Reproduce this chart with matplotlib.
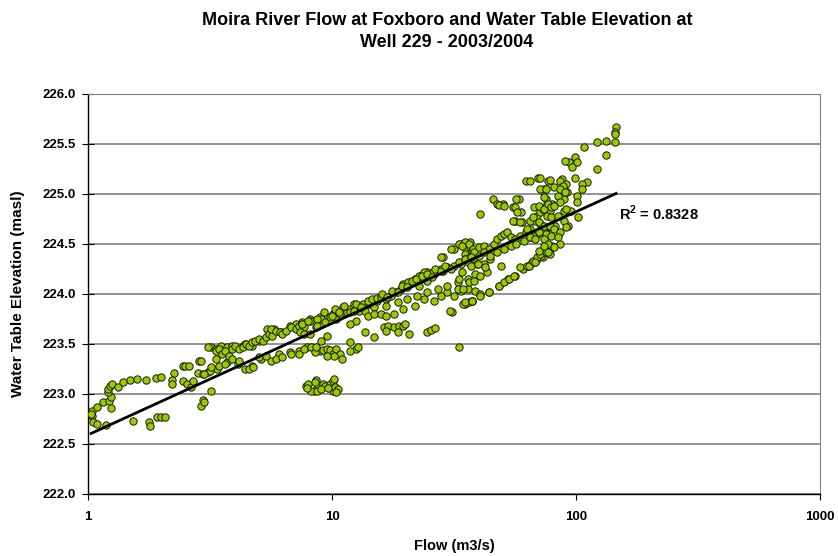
import numpy as np
import matplotlib
matplotlib.use("Agg")
import matplotlib.pyplot as plt

plt.rcParams['font.family'] = ['Liberation Sans', 'DejaVu Sans']
plt.rcParams['mathtext.fontset'] = 'custom'
plt.rcParams['mathtext.bf'] = 'Liberation Sans:bold'
plt.rcParams['mathtext.rm'] = 'Liberation Sans:bold'

# low flows (< 4.5 m3/s)
flow_low = [1.035, 1.035, 1.03, 1.05, 1.09, 1.18, 1.09, 1.15, 1.22, 1.24, 1.24, 1.21, 1.21, 1.23, 1.25, 1.33,
            1.39, 1.48, 1.59, 1.73, 1.90, 2.0, 2.2, 2.26, 2.2, 2.45, 2.5, 2.6, 2.45, 2.55, 2.65, 2.7, 2.82,
            2.85, 2.95, 3.1, 3.15, 3.39, 3.2, 2.95, 2.9, 3.0, 1.53, 1.78, 1.8, 1.92, 2.0, 2.06]
elev_low = [222.83, 222.78, 222.80, 222.72, 222.70, 222.69, 222.87, 222.92, 222.93, 222.97, 222.86, 223.02,
            223.05, 223.08, 223.10, 223.07, 223.12, 223.14, 223.15, 223.14, 223.16, 223.17, 223.14, 223.21,
            223.10, 223.28, 223.28, 223.28, 223.13, 223.10, 223.07, 223.13, 223.21, 223.33, 223.20, 223.22,
            223.23, 223.25, 223.03, 222.94, 222.88, 222.92, 222.73, 222.72, 222.68, 222.77, 222.77, 222.77]

# 3 - 13 m3/s band
flow_a = [3.2, 3.35, 3.5, 3.7, 3.9, 4.3, 4.4, 4.7, 5.0, 5.4, 5.6, 5.8, 6.2, 6.7, 7.1, 7.5, 8.1, 8.9, 9.4, 10.1,
          3.35, 3.7, 4.1, 4.4, 4.7, 5.1, 5.6, 6.04, 6.7, 7.3, 7.9, 8.9, 9.8, 10.3]
elev_a = [223.47, 223.45, 223.48, 223.47, 223.48, 223.48, 223.50, 223.48, 223.53, 223.65, 223.62, 223.65,
          223.62, 223.68, 223.70, 223.72, 223.75, 223.77, 223.78, 223.80,
          223.35, 223.32, 223.30, 223.25, 223.28, 223.35, 223.33, 223.40, 223.42, 223.43, 223.47, 223.43,
          223.42, 223.40]

flow_b = [2.9, 3.0, 3.2, 3.1, 3.34, 3.45, 3.55, 3.65, 3.8, 3.9, 4.0, 4.15, 4.3, 4.45, 4.56, 4.7, 4.85, 5.0,
          5.2, 5.34, 5.5, 5.7, 5.6, 5.9, 6.1, 6.24, 6.45, 6.8, 7.1, 7.29, 7.5, 7.7, 8.1, 8.6, 9.0, 9.4, 9.8,
          10.1, 10.4, 10.8, 11.1, 11.5, 11.8, 12.3, 12.5, 11.8,
          3.45, 3.65, 3.9, 4.15, 4.56, 4.75, 5.0, 5.34, 5.9, 6.24, 6.8, 7.29, 7.7, 8.2, 8.5,
          8.6, 9.2, 9.5, 9.8, 10.1, 10.4, 10.8, 11.0, 11.8, 12.6, 10.2, 9.5]
elev_b = [223.33, 223.20, 223.27, 223.47, 223.43, 223.45, 223.40, 223.43, 223.38, 223.45, 223.48, 223.45,
          223.47, 223.50, 223.48, 223.52, 223.53, 223.55, 223.53, 223.57, 223.60, 223.58, 223.65, 223.63,
          223.62, 223.60, 223.63, 223.67, 223.65, 223.68, 223.70, 223.67, 223.73, 223.67, 223.75, 223.72,
          223.77, 223.78, 223.75, 223.80, 223.87, 223.82, 223.85, 223.90, 223.73, 223.70,
          223.28, 223.30, 223.35, 223.33, 223.25, 223.27, 223.37, 223.38, 223.35, 223.37, 223.40, 223.40,
          223.45, 223.47, 223.42,
          223.47, 223.44, 223.45, 223.44, 223.40, 223.45, 223.40, 223.35, 223.52, 223.45, 223.38, 223.38]

# detached cluster near 223.1 m
flow_c = [7.8, 8.0, 8.4, 8.6, 8.8, 9.2, 9.4, 9.8, 10.1, 10.2, 10.1, 10.3, 10.6, 8.2, 8.7, 8.5, 9.0, 9.6,
          10.4, 7.9]
elev_c = [223.08, 223.10, 223.03, 223.14, 223.08, 223.10, 223.08, 223.10, 223.13, 223.15, 223.03, 223.07,
          223.05, 223.03, 223.03, 223.12, 223.05, 223.06, 223.02, 223.06]

# 7 - 45 m3/s
flow_d = [7.5, 7.4, 7.7, 8.0, 8.1, 8.7, 8.7, 9.0, 9.5, 9.3, 9.96, 10.3, 10.7, 11.2, 11.8, 12.5, 12.9, 13.4,
          13.6, 14.2, 14.8, 15.3,
          16.3, 17.0, 18.0, 18.8, 19.6, 20.0, 20.6, 18.6, 16.7, 14.8, 13.6, 12.8, 11.8, 24.5, 25.4, 26.5, 33.0]
elev_d = [223.70, 223.62, 223.60, 223.73, 223.60, 223.75, 223.68, 223.53, 223.58, 223.82, 223.78, 223.85,
          223.82, 223.88, 223.82, 223.90, 223.83, 223.90, 223.83, 223.90, 223.87, 223.93,
          223.67, 223.68, 223.67, 223.68, 223.68, 223.70, 223.60, 223.62, 223.63, 223.57, 223.62, 223.47,
          223.43, 223.62, 223.64, 223.66, 223.47]

flow_e = [12.3, 13.2, 14.0, 14.6, 15.3, 15.9, 16.6, 17.4, 18.3, 19.1, 20.0, 20.9, 22.0, 23.0, 24.6, 26.2,
          28.0, 29.7, 31.7, 33.8, 36.0, 38.2,
          19.6, 20.4, 21.8, 22.7, 23.8, 24.6, 26.0, 28.6, 31.7, 33.8, 35.4, 36.7, 35.0, 28.6,
          14.0, 14.8, 15.9, 16.7, 18.0, 19.6, 21.8, 23.8, 26.2, 28.0, 29.7, 31.7, 33.8, 36.0, 38.5, 31.0,
          35.0, 37.5,
          16.7, 18.6, 20.3, 22.4, 24.6, 27.2, 29.7, 32.7, 36.0, 38.5]
elev_e = [223.83, 223.87, 223.93, 223.95, 223.96, 223.97, 223.95, 223.98, 224.02, 224.05, 224.08, 224.12,
          224.15, 224.18, 224.22, 224.20, 224.25, 224.27, 224.28, 224.30, 224.32, 224.35,
          224.10, 224.12, 224.15, 224.18, 224.22, 224.13, 224.22, 224.23, 224.45, 224.50, 224.45, 224.52,
          224.40, 224.37,
          223.78, 223.80, 223.80, 223.78, 223.80, 223.85, 223.88, 223.95, 223.93, 223.98, 224.02, 223.98,
          224.03, 224.05, 224.03, 223.82, 223.90, 223.93,
          223.88, 223.92, 223.95, 223.98, 224.02, 224.05, 224.08, 224.12, 224.15, 224.20]

flow_f = [16.0, 16.8, 17.6, 18.6, 19.4, 20.3, 21.2, 22.0, 22.8, 23.4, 24.5, 25.6, 26.4, 28.0, 29.1, 30.6,
          33.0, 35.0, 36.7, 39.2, 42.0, 44.6,
          30.6, 33.0, 35.0, 36.7, 37.5, 28.0, 40.5, 30.5,
          34.5, 36.5, 37.4, 40.5, 44.0, 48.2, 52.5, 56.0, 60.8, 64.0, 68.0, 73.0, 78.0, 80.0,
          45.8, 47.5, 50.0, 55.0, 58.5, 59.4, 56.0, 60.0]
elev_f = [224.00, 223.97, 224.03, 224.02, 224.08, 224.07, 224.13, 224.15, 224.08, 224.18, 224.20, 224.17,
          224.25, 224.23, 224.28, 224.25, 224.32, 224.35, 224.37, 224.30, 224.30, 224.35,
          224.45, 224.50, 224.52, 224.47, 224.43, 224.37, 224.80, 223.83,
          223.90, 223.92, 223.93, 224.00, 224.02, 224.08, 224.15, 224.18, 224.25, 224.28, 224.32, 224.37,
          224.40, 224.47,
          224.95, 224.90, 224.90, 224.87, 224.95, 224.82, 224.73, 224.72]

# 32 - 85 m3/s
flow_g = [62.5, 70.0, 77.0, 73.0, 48.5, 50.6, 57.0, 56.5, 55.0, 57.5, 59.0,
          34.0, 36.4, 37.7, 38.2, 40.0, 42.0, 44.0, 46.0, 47.5, 49.5, 50.8, 52.2, 54.0, 56.5, 59.0, 62.5,
          65.0, 67.0, 69.0, 71.3, 73.0, 75.0, 78.0, 80.0, 71.3, 75.0,
          35.0, 37.0, 40.0, 42.0, 44.6, 47.5, 50.8, 54.0, 57.0, 61.0, 65.0, 69.0, 73.0, 78.0, 82.0,
          35.0, 37.5, 40.5, 44.0, 48.5, 50.8, 53.0, 55.5, 59.0, 63.0, 66.0, 69.0, 72.0, 74.0, 77.0, 80.0,
          32.7, 34.5, 36.4, 38.2, 40.5, 43.0, 34.0, 37.0, 33.2, 39.5, 49.5, 42.5]
elev_g = [225.13, 225.16, 225.13, 225.03, 224.89, 224.88, 224.95, 224.87, 224.73, 224.82, 224.72,
          224.48, 224.50, 224.45, 224.42, 224.47, 224.48, 224.45, 224.50, 224.55, 224.58, 224.60, 224.62,
          224.57, 224.55, 224.58, 224.62, 224.65, 224.73, 224.78, 224.82, 224.85, 224.88, 224.83, 224.90,
          224.70, 224.65,
          224.35, 224.37, 224.38, 224.42, 224.38, 224.42, 224.45, 224.48, 224.50, 224.53, 224.57, 224.60,
          224.63, 224.67, 224.68,
          223.92, 223.93, 223.98, 224.02, 224.08, 224.12, 224.15, 224.18, 224.27, 224.28, 224.32, 224.35,
          224.38, 224.42, 224.45, 224.48,
          224.05, 224.05, 224.12, 224.13, 224.18, 224.22, 224.22, 224.28, 224.15, 224.30, 224.28, 224.27]

# high flows (> 60 m3/s)
flow_h = [146, 145, 144, 133, 122, 145, 133, 122, 108, 99, 94, 90, 101, 96, 99, 88, 86, 111, 106, 91,
          88.5, 81.5, 73.6, 71, 78.5, 106, 101, 100.5, 102, 93, 95, 92, 89, 84,
          63, 65, 66.5, 67.5, 70.5, 73.6, 75, 77, 79, 81.5, 86, 89, 91, 76, 79, 84, 89, 70.5, 74, 78,
          81.5, 86, 75, 70.5, 66.5, 79, 84, 65, 68, 73.6, 77, 86, 91, 65, 71, 73.6, 86, 90, 75.5,
          64, 66.5, 69.5, 71.5, 75, 77, 81.5, 70.5, 74, 68]
elev_h = [225.67, 225.62, 225.60, 225.53, 225.52, 225.52, 225.39, 225.25, 225.47, 225.37, 225.32, 225.33,
          225.32, 225.27, 225.16, 225.15, 225.13, 225.12, 225.10, 225.10, 225.08, 225.07, 225.05, 225.16,
          225.14, 225.05, 224.98, 224.92, 224.77, 224.68, 224.83, 225.02, 224.95, 224.98,
          224.65, 224.73, 224.77, 224.87, 224.88, 224.85, 224.95, 224.90, 224.87, 224.88, 224.92, 224.83,
          224.85, 224.78, 224.77, 224.78, 224.73, 224.72, 224.68, 224.68, 224.65, 224.62, 224.60, 224.62,
          224.58, 224.58, 224.57, 224.57, 224.55, 224.55, 224.50, 224.50, 224.67, 225.13, 225.05, 224.97,
          225.05, 225.02, 225.05,
          224.28, 224.33, 224.37, 224.40, 224.42, 224.42, 224.47, 224.43, 224.48, 224.32]

r2_label = "R$^{2}$ = 0.8328"

flow = np.array(flow_low + flow_a + flow_b + flow_c + flow_d + flow_e + flow_f + flow_g + flow_h, dtype=float)
elev = np.array(elev_low + elev_a + elev_b + elev_c + elev_d + elev_e + elev_f + elev_g + elev_h)

fig = plt.figure(figsize=(8.38, 5.56), dpi=100)
ax = fig.add_axes([88 / 838, 1 - 494 / 556, 732 / 838, 400 / 556])

ax.scatter(flow, elev, s=28, c='#99CC00', edgecolors='#1a1a00', linewidths=0.7, zorder=3)

# log trend line fitted to the points
a, b = np.polyfit(np.log(flow), elev, 1)
xt = np.array([flow.min(), flow.max()])
ax.plot(xt, a * np.log(xt) + b, color='black', lw=2, zorder=4)

ax.text(150, 224.81, r2_label, fontsize=10.5, fontweight='bold', va='center', ha='left')

ax.set_xscale('log')
ax.set_xlim(1, 1000)
ax.set_ylim(222.0, 226.0)
ax.set_xticks([1, 10, 100, 1000])
ax.set_xticklabels(['1', '10', '100', '1000'])
ax.xaxis.set_minor_locator(matplotlib.ticker.NullLocator())
ax.set_yticks(np.arange(222.0, 226.01, 0.5))
ax.yaxis.set_major_formatter(matplotlib.ticker.FormatStrFormatter('%.1f'))
ax.grid(axis='y', color='#808080', lw=1.2, zorder=1)
ax.set_axisbelow(True)

for s in ['top', 'right']:
    ax.spines[s].set_color('#808080')
for s in ['left', 'bottom']:
    ax.spines[s].set_color('black')
    ax.spines[s].set_linewidth(1.0)

ax.tick_params(axis='y', direction='inout', length=8, pad=5, labelsize=9.5)
ax.tick_params(axis='x', direction='out', length=4, pad=8, labelsize=9.5)
for lbl in ax.get_xticklabels() + ax.get_yticklabels():
    lbl.set_fontweight('bold')

fig.text(447 / 838, 1 - 12 / 556,
         "Moira River Flow at Foxboro and Water Table Elevation at\nWell 229 - 2003/2004",
         ha='center', va='top', fontsize=13, fontweight='bold', linespacing=1.4)
fig.text(18 / 838, 1 - 294 / 556, "Water Table Elevation (masl)", rotation=90,
         ha='center', va='center', fontsize=11, fontweight='bold')
fig.text(454 / 838, 1 - 546 / 556, "Flow (m3/s)", ha='center', va='center',
         fontsize=10.5, fontweight='bold')

fig.savefig('out.png', dpi=100)
